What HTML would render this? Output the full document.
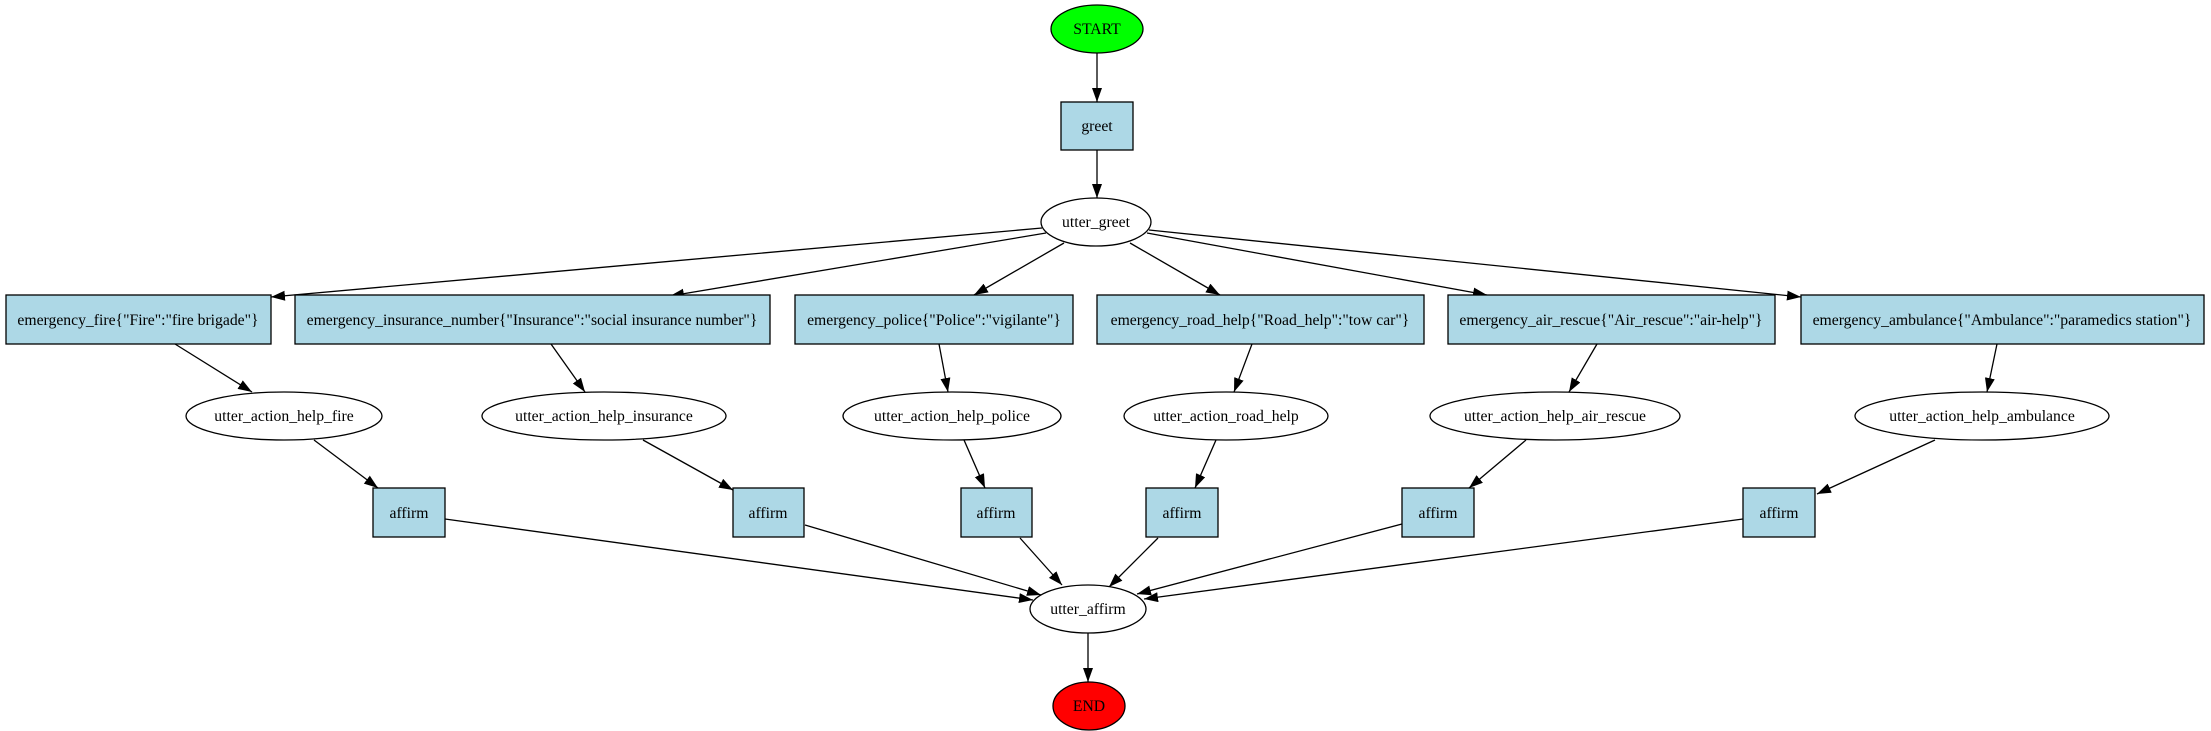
<!DOCTYPE html>
<html><head><meta charset="utf-8"><style>html,body{margin:0;padding:0;background:#fff}svg{display:block}</style></head><body>
<svg width="2211" height="731" viewBox="0 0 2211 731" xmlns="http://www.w3.org/2000/svg" font-family="'Liberation Serif',serif" font-size="15.7">
<defs><marker id="a" markerUnits="userSpaceOnUse" markerWidth="16" markerHeight="12" refX="14" refY="5" orient="auto"><path d="M0,0 L14,5 L0,10 Z" fill="#000"/></marker></defs>
<g stroke="#000" stroke-width="1.3" fill="none" marker-end="url(#a)">
<line x1="1097" y1="53" x2="1097" y2="102"/>
<line x1="1097" y1="150" x2="1097" y2="198"/>
<line x1="1088" y1="633" x2="1088" y2="682"/>
<line x1="1042" y1="228" x2="271" y2="297"/>
<line x1="1046" y1="233" x2="670" y2="296"/>
<line x1="1064" y1="243" x2="974" y2="295"/>
<line x1="1130" y1="243" x2="1220" y2="295"/>
<line x1="1147" y1="233" x2="1487" y2="295"/>
<line x1="1149" y1="230" x2="1801" y2="297"/>
<line x1="175" y1="344" x2="252" y2="392"/>
<line x1="551" y1="344" x2="585" y2="392"/>
<line x1="939" y1="344" x2="948" y2="392"/>
<line x1="1252" y1="344" x2="1234" y2="392"/>
<line x1="1597" y1="344" x2="1569" y2="392"/>
<line x1="1997" y1="344" x2="1987" y2="392"/>
<line x1="314" y1="440" x2="378" y2="488"/>
<line x1="643" y1="440" x2="733" y2="490"/>
<line x1="964" y1="440" x2="985" y2="488"/>
<line x1="1216" y1="440" x2="1195" y2="488"/>
<line x1="1526" y1="440" x2="1469" y2="488"/>
<line x1="1935" y1="440" x2="1817" y2="494"/>
<line x1="445" y1="519" x2="1033" y2="600"/>
<line x1="805" y1="525" x2="1041" y2="595"/>
<line x1="1020" y1="538" x2="1062" y2="585"/>
<line x1="1158" y1="538" x2="1109" y2="587"/>
<line x1="1402" y1="524" x2="1137" y2="594"/>
<line x1="1743" y1="519" x2="1144" y2="599"/>
</g>
<g stroke="#000" stroke-width="1.3">
<ellipse cx="1097" cy="29" rx="46" ry="24" fill="#00ff00"/>
<ellipse cx="1089" cy="706" rx="36" ry="24" fill="#ff0000"/>
<rect x="1061" y="102" width="72" height="48" fill="#add8e6"/>
<ellipse cx="1096" cy="222" rx="55" ry="24" fill="#fff"/>
<ellipse cx="1088" cy="609" rx="58" ry="24" fill="#fff"/>
<rect x="6" y="295" width="265" height="49" fill="#add8e6"/>
<rect x="295" y="295" width="475" height="49" fill="#add8e6"/>
<rect x="795" y="295" width="278" height="49" fill="#add8e6"/>
<rect x="1097" y="295" width="327" height="49" fill="#add8e6"/>
<rect x="1448" y="295" width="327" height="49" fill="#add8e6"/>
<rect x="1801" y="295" width="403" height="49" fill="#add8e6"/>
<ellipse cx="284" cy="416" rx="98" ry="24" fill="#fff"/>
<ellipse cx="604" cy="416" rx="122" ry="24" fill="#fff"/>
<ellipse cx="952" cy="416" rx="109" ry="24" fill="#fff"/>
<ellipse cx="1226" cy="416" rx="102" ry="24" fill="#fff"/>
<ellipse cx="1555" cy="416" rx="125" ry="24" fill="#fff"/>
<ellipse cx="1982" cy="416" rx="127" ry="24" fill="#fff"/>
<rect x="373" y="488" width="72" height="49" fill="#add8e6"/>
<rect x="733" y="488" width="71" height="49" fill="#add8e6"/>
<rect x="961" y="488" width="71" height="49" fill="#add8e6"/>
<rect x="1146" y="488" width="72" height="49" fill="#add8e6"/>
<rect x="1402" y="488" width="72" height="49" fill="#add8e6"/>
<rect x="1743" y="488" width="72" height="49" fill="#add8e6"/>
</g>
<g text-anchor="middle" fill="#000">
<text x="1097" y="34">START</text>
<text x="1089" y="711">END</text>
<text x="1097" y="131">greet</text>
<text x="1096" y="227">utter_greet</text>
<text x="1088" y="614">utter_affirm</text>
<text x="138" y="325">emergency_fire{"Fire":"fire brigade"}</text>
<text x="532" y="325">emergency_insurance_number{"Insurance":"social insurance number"}</text>
<text x="934" y="325">emergency_police{"Police":"vigilante"}</text>
<text x="1260" y="325">emergency_road_help{"Road_help":"tow car"}</text>
<text x="1611" y="325">emergency_air_rescue{"Air_rescue":"air-help"}</text>
<text x="2002" y="325">emergency_ambulance{"Ambulance":"paramedics station"}</text>
<text x="284" y="421">utter_action_help_fire</text>
<text x="604" y="421">utter_action_help_insurance</text>
<text x="952" y="421">utter_action_help_police</text>
<text x="1226" y="421">utter_action_road_help</text>
<text x="1555" y="421">utter_action_help_air_rescue</text>
<text x="1982" y="421">utter_action_help_ambulance</text>
<text x="409" y="518">affirm</text>
<text x="768" y="518">affirm</text>
<text x="996" y="518">affirm</text>
<text x="1182" y="518">affirm</text>
<text x="1438" y="518">affirm</text>
<text x="1779" y="518">affirm</text>
</g>
</svg>
</body></html>
